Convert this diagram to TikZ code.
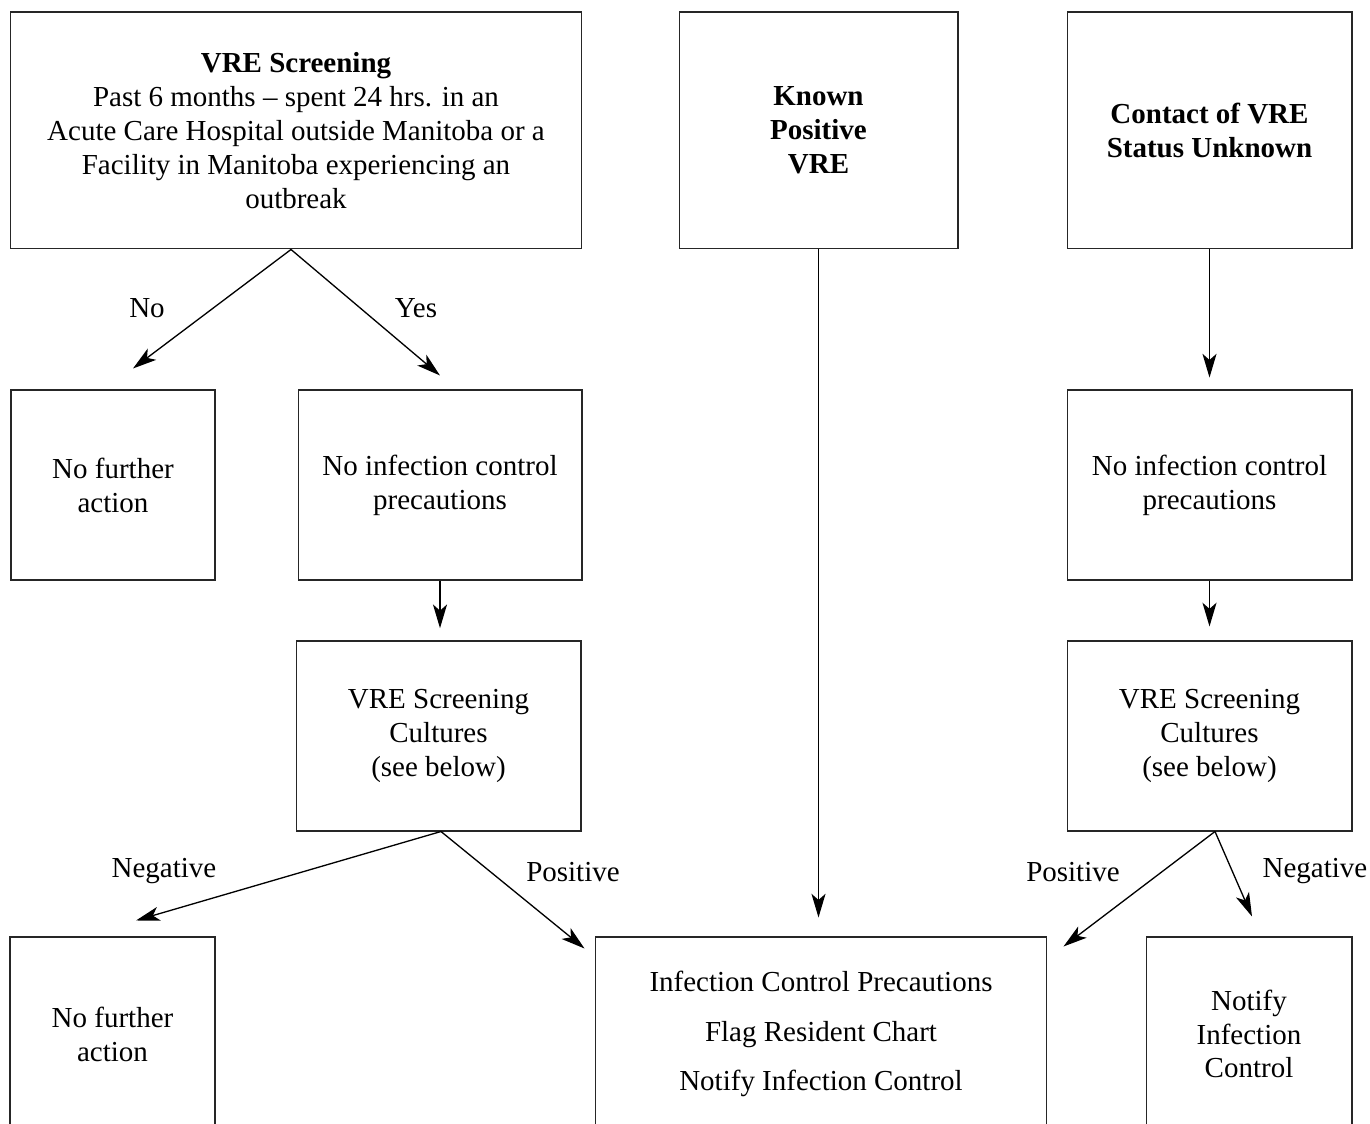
\documentclass[tikz,border=0pt]{standalone}
\usepackage{fontspec}
\setmainfont{Liberation Serif}
\usetikzlibrary{arrows.meta,calc}
\begin{document}
\begin{tikzpicture}[x=0.02cm,y=-0.02cm,
  box/.style={draw=black!85,line width=0.6pt,rectangle,inner sep=0pt,align=center,
    font=\fontsize{16.5}{19.3}\selectfont},
  lbl/.style={font=\fontsize{16.5}{19.3}\selectfont,inner sep=0pt},
  arr/.style={draw=black,line width=0.75pt,-{Stealth[length=13.5pt,width=8pt,inset=3.5pt]}}]
\useasboundingbox (0,0) rectangle (1370,1124);
\clip (0,0) rectangle (1370,1124);
% boxes
\node[box,minimum width=11.44cm,minimum height=4.74cm] (A) at (296,130.5)
  {\textbf{VRE Screening}\\Past 6 months -- spent 24 hrs. in an\\Acute Care Hospital outside Manitoba or a\\Facility in Manitoba experiencing an\\outbreak};
\node[box,minimum width=5.58cm,minimum height=4.74cm] (K) at (818.5,130.5)
  {\textbf{Known}\\\textbf{Positive}\\\textbf{VRE}};
\node[box,minimum width=5.7cm,minimum height=4.74cm] (C) at (1209.5,130.5)
  {\textbf{Contact of VRE}\\\textbf{Status Unknown}};
\node[box,minimum width=4.08cm,minimum height=3.8cm] (N1) at (113,485)
  {No further\\action};
\node[box,minimum width=5.68cm,minimum height=3.8cm] (L1) at (440,485)
  {No infection control\\precautions};
\node[box,minimum width=5.7cm,minimum height=3.8cm] (L2) at (438.5,736)
  {VRE Screening\\Cultures\\(see below)};
\node[box,minimum width=5.7cm,minimum height=3.8cm] (R1) at (1209.5,485)
  {No infection control\\precautions};
\node[box,minimum width=5.7cm,minimum height=3.8cm] (R2) at (1209.5,736)
  {VRE Screening\\Cultures\\(see below)};
\node[box,minimum width=4.1cm,minimum height=3.88cm] (B1) at (112.5,1034)
  {No further\\action};
\node[box,minimum width=9.04cm,minimum height=3.88cm,
  font=\fontsize{16.5}{28.3}\selectfont] (B2) at (821,1034)
  {Infection Control Precautions\\Flag Resident Chart\\Notify Infection Control};
\node[box,minimum width=4.12cm,minimum height=3.88cm] (B3) at (1249,1034)
  {Notify\\Infection\\Control};
% tip coordinates
\coordinate (tNo) at ($(N1.north)+(20,-21)$);
\coordinate (tYes) at ($(L1.north)+(0,-14)$);
\coordinate (tNeg) at ($(B1.north)+(23.5,-16)$);
\coordinate (tPos) at ($(B2.north west)+(-10,12)$);
\coordinate (tPos2) at ($(B2.north east)+(16,10)$);
\coordinate (tNeg2) at ($(B3.north)+(3,-20)$);
\coordinate (sA) at ($(A.south)+(-5,0)$);
\coordinate (sL2) at ($(L2.south)+(2.5,0)$);
\coordinate (sR2) at ($(R2.south)+(5.5,0)$);
% connectors
\draw[arr] (sA) -- (tNo);
\draw[arr] (sA) -- (tYes);
\draw[arr,shorten >=7pt] (L1.south) -- (L1.south |- L2.north);
\draw[arr] (sL2) -- (tNeg);
\draw[arr] (sL2) -- (tPos);
\draw[arr,shorten >=10.8pt] (K.south) -- (K.south |- B2.north);
\draw[arr,shorten >=6.8pt] (C.south) -- (R1.north);
\draw[arr,shorten >=8pt] (R1.south) -- (R2.north);
\draw[arr] (sR2) -- (tPos2);
\draw[arr] (sR2) -- (tNeg2);
% labels
\node[lbl] (lNo) at (147,308) {No};
\node[lbl] (lYes) at (416,308) {Yes};
\node[lbl] (lNeg) at (164,871) {Negative};
\node[lbl] (lPos) at (573,872) {Positive};
\node[lbl] (lPos2) at (1073,872) {Positive};
\node[lbl] (lNeg2) at (1315,871) {Negative};
\end{tikzpicture}
\end{document}
